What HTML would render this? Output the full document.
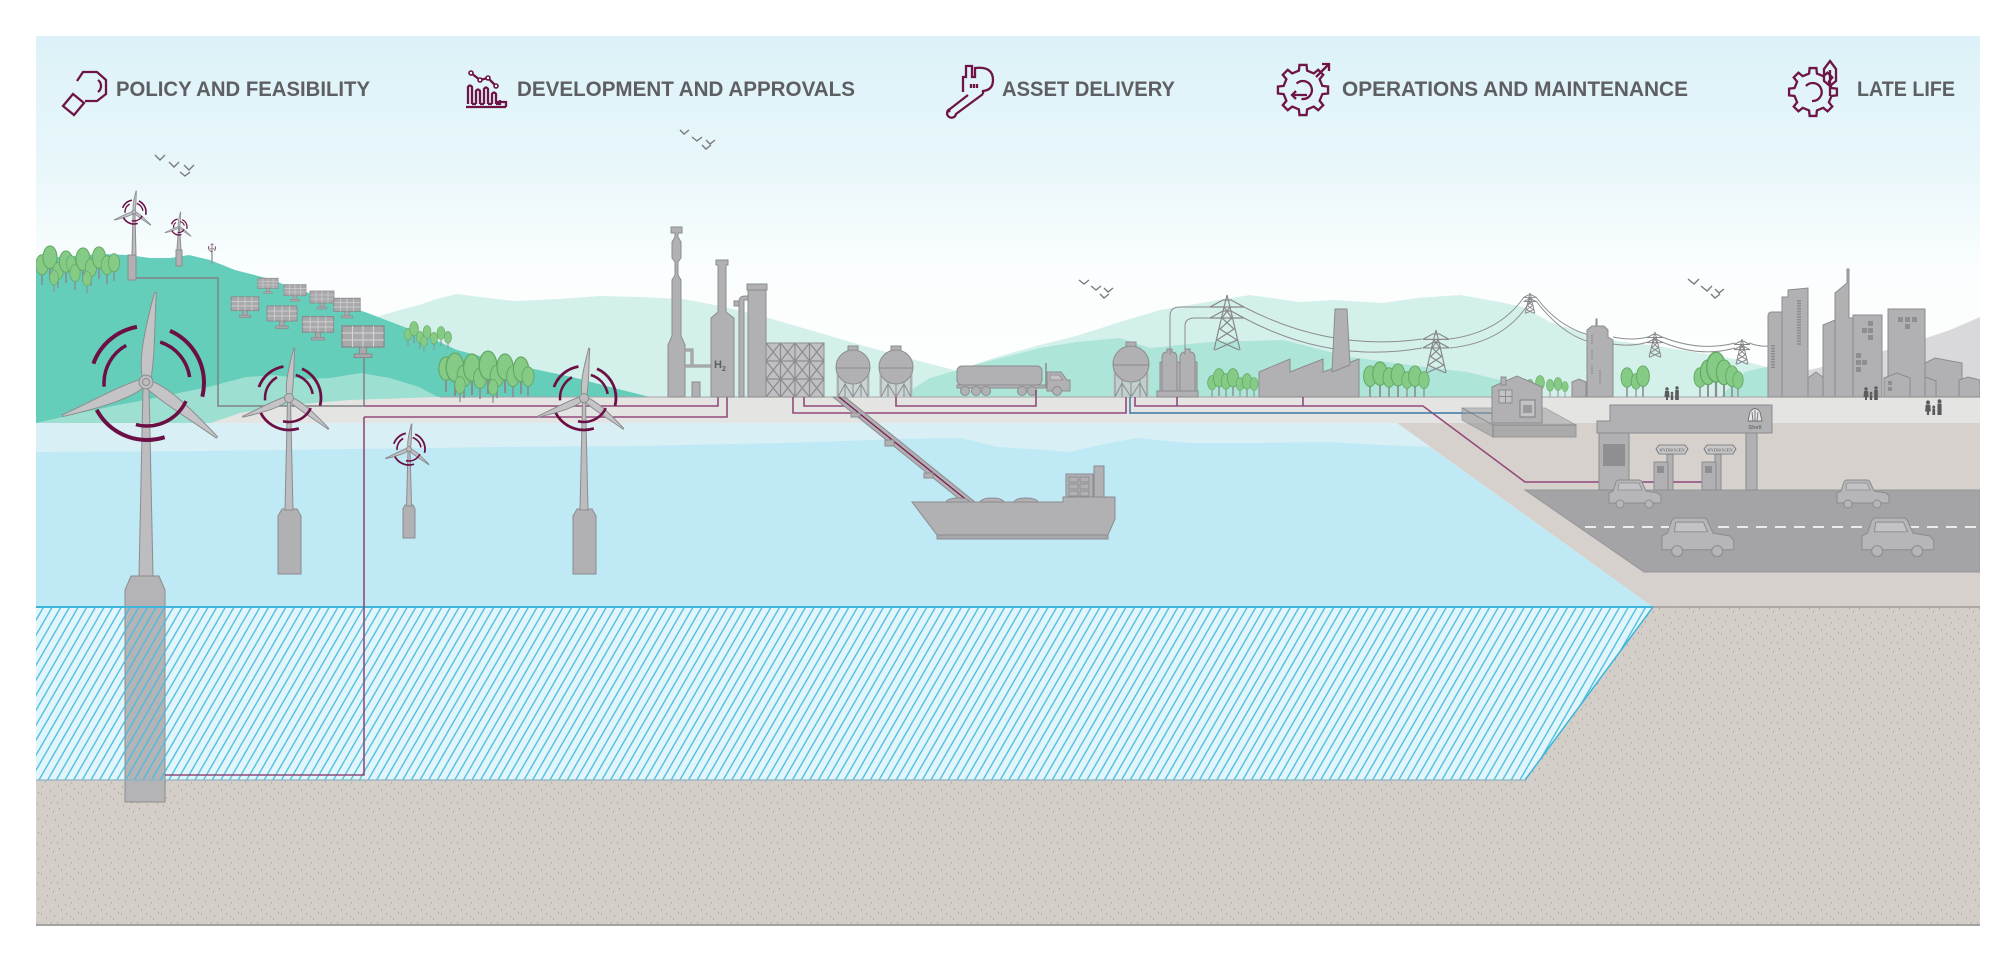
<!DOCTYPE html>
<html><head><meta charset="utf-8"><style>
html,body{margin:0;padding:0;background:#fff;}
svg{display:block;}
.g{fill:#b1b1b4;stroke:#8c8c8f;stroke-width:1;}
.gl{fill:#bdbdc0;stroke:#8c8c8f;stroke-width:1;}
.pp{fill:none;stroke:#93497a;stroke-width:1.6;}
.ic{fill:none;stroke:#6e1446;stroke-width:2.3;stroke-linejoin:miter;}
.tt{font-family:"Liberation Sans",sans-serif;font-weight:bold;font-size:21px;fill:#5e5f63;}
.bird{fill:none;stroke:#7a7a7d;stroke-width:1.4;}
</style></head><body>
<svg width="2016" height="960" viewBox="0 0 2016 960" xmlns="http://www.w3.org/2000/svg">
<defs>
  <linearGradient id="sky" gradientUnits="userSpaceOnUse" x1="0" y1="36" x2="0" y2="420">
    <stop offset="0" stop-color="#dcf2f8"/>
    <stop offset="0.35" stop-color="#e9f7fa"/>
    <stop offset="0.62" stop-color="#fbfefe"/>
    <stop offset="1" stop-color="#ffffff"/>
  </linearGradient>
  <pattern id="hatch" width="7.5" height="10" patternUnits="userSpaceOnUse" patternTransform="rotate(30)">
    <line x1="3.75" y1="-1" x2="3.75" y2="11" stroke="#43bce0" stroke-width="1.3"/>
  </pattern>
  <pattern id="speck" width="40" height="40" patternUnits="userSpaceOnUse">
    <rect width="40" height="40" fill="#d4cec9"/>
    <g fill="#aaa39d">
      <rect x="3" y="5" width="1" height="1.5"/><rect x="11" y="2" width="1" height="1.5"/><rect x="19" y="8" width="1" height="1.5"/><rect x="27" y="4" width="1" height="1.5"/><rect x="35" y="11" width="1" height="1.5"/><rect x="7" y="15" width="1" height="1.5"/><rect x="15" y="19" width="1" height="1.5"/><rect x="23" y="14" width="1" height="1.5"/><rect x="31" y="22" width="1" height="1.5"/><rect x="38" y="18" width="1" height="1.5"/><rect x="2" y="26" width="1" height="1.5"/><rect x="10" y="30" width="1" height="1.5"/><rect x="18" y="25" width="1" height="1.5"/><rect x="26" y="33" width="1" height="1.5"/><rect x="34" y="28" width="1" height="1.5"/><rect x="6" y="37" width="1" height="1.5"/><rect x="14" y="35" width="1" height="1.5"/><rect x="22" y="38" width="1" height="1.5"/><rect x="30" y="36" width="1" height="1.5"/><rect x="38" y="32" width="1" height="1.5"/><rect x="5" y="21" width="1" height="1.5"/><rect x="13" y="11" width="1" height="1.5"/><rect x="21" y="29" width="1" height="1.5"/><rect x="29" y="17" width="1" height="1.5"/><rect x="37" y="3" width="1" height="1.5"/><rect x="9" y="8" width="1" height="1.5"/><rect x="25" y="24" width="1" height="1.5"/><rect x="33" y="38" width="1" height="1.5"/><rect x="17" y="2" width="1" height="1.5"/><rect x="1" y="33" width="1" height="1.5"/>
    </g>
    <g fill="#e4e0dc">
      <rect x="8" y="3" width="1" height="1"/><rect x="16" y="12" width="1" height="1"/><rect x="24" y="6" width="1" height="1"/><rect x="32" y="16" width="1" height="1"/><rect x="4" y="28" width="1" height="1"/><rect x="12" y="24" width="1" height="1"/><rect x="20" y="34" width="1" height="1"/><rect x="28" y="29" width="1" height="1"/><rect x="36" y="24" width="1" height="1"/><rect x="36" y="7" width="1" height="1"/>
    </g>
  </pattern>
  <path id="blade" d="M3,-4 C22,-11 55,-8 100,-1 L100,1 C60,3 30,7 3,5 Z" fill="#c4c4c7" stroke="#8c8c8f"/>
  <g id="tr"><line x1="0" y1="0" x2="0" y2="-9" stroke="#8c8c8f" stroke-width="1"/><ellipse cx="0" cy="-13" rx="4" ry="6.5" fill="#85cb85" stroke="#62a864" stroke-width="0.6"/></g>
  <g id="solar">
    <rect x="-2" y="4" width="4" height="4" fill="#a9a9ac" stroke="#8a8a8d" stroke-width="0.6"/>
    <rect x="-5" y="8" width="10" height="2" fill="#a9a9ac" stroke="#8a8a8d" stroke-width="0.6"/>
    <rect x="-12" y="-8" width="24" height="12" fill="#a9a9ac" stroke="#8a8a8d" stroke-width="0.8"/>
    <path d="M-12,-4H12M-12,0H12M-6,-8V4M0,-8V4M6,-8V4" stroke="#d5d5d7" stroke-width="0.6"/>
  </g>
  <g id="pylon" fill="none" stroke="#87878a">
    <polyline points="-13,55 -3,12 0,0 3,12 13,55"/>
    <polyline points="-17,12 -4,5 4,5 17,12 -17,12"/>
    <polyline points="-17,23 -4,16 4,16 17,23 -17,23"/>
    <polyline points="-3,12 5,23 -7,34 10,45 -12,55"/>
    <polyline points="3,12 -5,23 7,34 -10,45 12,55"/>
  </g>
  <g id="car">
    <path d="M0,23 V13 L4,11 L7,2 Q8,0 10,0 H30 Q32,0 33,2 L37,11 L49,13 L52,16 V23 Z" fill="#b6b6b9" stroke="#8c8c8f"/>
    <path d="M10,3 H30 L33,10 H9 Z" fill="#c3c3c6" stroke="#8c8c8f" stroke-width="0.7"/>
    <circle cx="11" cy="24" r="4" fill="#b6b6b9" stroke="#8c8c8f"/>
    <circle cx="40" cy="24" r="4" fill="#b6b6b9" stroke="#8c8c8f"/>
  </g>
  <g id="ppl" fill="#5b5b5e">
    <circle cx="0" cy="-11" r="1.7"/><path d="M-2,-9 H2 L2.5,-3 H1 V0 H-1 V-3 H-2.5 Z"/>
    <circle cx="5" cy="-7" r="1.3"/><rect x="3.8" y="-5.6" width="2.4" height="5.6"/>
    <circle cx="10" cy="-12" r="1.7"/><rect x="8.2" y="-10" width="3.6" height="10"/>
  </g>
  <path id="gear" d="M17.61,-3.74 L22.78,-3.2 L22.78,3.2 L17.61,3.74 L15.1,9.8 L18.37,13.84 L13.84,18.37 L9.8,15.1 L3.74,17.61 L3.2,22.78 L-3.2,22.78 L-3.74,17.61 L-9.8,15.1 L-13.84,18.37 L-18.37,13.84 L-15.1,9.8 L-17.61,3.74 L-22.78,3.2 L-22.78,-3.2 L-17.61,-3.74 L-15.1,-9.8 L-18.37,-13.84 L-13.84,-18.37 L-9.8,-15.1 L-3.74,-17.61 L-3.2,-22.78 L3.2,-22.78 L3.74,-17.61 L9.8,-15.1 L13.84,-18.37 L18.37,-13.84 L15.1,-9.8 Z"/>
  <clipPath id="panel"><rect x="36" y="36" width="1944" height="890"/></clipPath>
</defs>

<rect width="2016" height="960" fill="#fff"/>
<g clip-path="url(#panel)">
  <rect x="36" y="36" width="1944" height="400" fill="url(#sky)"/>

  <path d="M373,397 L373,318 L400,310 L419,305 L440,298 L457,294 L480,297 L514,301 L560,299 L600,296 L640,297 L683,299 L720,306 L765,317 L810,330 L854,343 L900,356 L954,370 L985,397 Z" fill="#d4f0ea"/>
  <path d="M940,397 L961,369 L1000,356 L1040,345 L1076,336 L1120,322 L1160,310 L1207,302 L1250,295 L1300,302 L1333,300 L1383,303 L1417,298 L1460,295 L1500,302 L1523,307 L1550,322 L1583,333 L1617,341 L1650,345 L1700,353 L1740,360 L1770,368 L1790,397 Z" fill="#d4f0ea"/>
  <path d="M1780,397 L1800,372 L1840,363 L1880,352 L1920,340 L1950,330 L1980,317 L1980,397 Z" fill="#d9d9db"/>
  <path d="M900,397 L930,378 L985,362 L1040,348 L1076,342 L1120,338 L1150,348 L1210,342 L1283,340 L1350,357 L1410,365 L1467,372 L1500,380 L1520,397 Z" fill="#ade5d8"/>
  <path d="M1720,397 L1745,372 L1770,366 L1790,372 L1790,397 Z" fill="#ade5d8"/>

  <path d="M36,262 L59,257 L100,254 L128,255 L150,258 L170,258 L189,255 L210,260 L235,270 L266,278 L300,290 L340,303 L373,315 L420,333 L457,350 L510,364 L572,377 L610,387 L650,397 L650,430 L36,430 Z" fill="#64ceba"/>
  <path d="M36,423 L80,413 L113,406 L160,397 L208,387 L246,377 L275,375 L304,379 L330,378 L361,373 L390,378 L419,387 L438,397 L470,397 L470,428 L36,428 Z" fill="#9ddfd1"/>

  <path d="M205,425 L240,413 L290,405 L350,400 L440,397 L1980,397 L1980,425 Z" fill="#e4e5e2"/>
  <line x1="440" y1="397" x2="1980" y2="397" stroke="#a3a3a6" stroke-width="1"/>

  <path d="M36,423 L1397,423 L1653,607 L36,607 Z" fill="#d8eff6"/>
  <path d="M36,452 L200,451 L350,449 L500,447 L640,446 L783,443 L900,439 L961,438 L997,447 L1047,450 L1069,452 L1100,445 L1137,438 L1188,443 L1260,443 L1329,442 L1380,445 L1430,447 L1653,607 L36,607 Z" fill="#bfe9f5"/>

  <path d="M1397,423 L1980,423 L1980,607 L1653,607 Z" fill="#d6d1cd"/>
  <rect x="36" y="607" width="1944" height="320" fill="url(#speck)"/>
  <line x1="1653" y1="607" x2="1980" y2="607" stroke="#9f9b97" stroke-width="1.5"/>
  <line x1="36" y1="925" x2="1980" y2="925" stroke="#a5a29f" stroke-width="2"/>

  <path d="M36,607 L1653,607 L1525,780 L36,780 Z" fill="#e2f5fa"/>
  <path d="M125,590 L131,576 L159,576 L165,590 L165,802 L125,802 Z" fill="#b4b4b7" stroke="#8c8c8f"/>
  <path d="M36,607 L1653,607 L1525,780 L36,780 Z" fill="url(#hatch)"/>
  <line x1="36" y1="607" x2="1653" y2="607" stroke="#3cb4db" stroke-width="2"/>
  <line x1="1653" y1="607" x2="1525" y2="780" stroke="#3cb4db" stroke-width="1.5"/>
  <line x1="36" y1="780" x2="1525" y2="780" stroke="#8fb3bf" stroke-width="1.2"/>

  <path d="M1525,490 L1980,490 L1980,572 L1644,572 Z" fill="#a4a4a7" stroke="#96969a"/>
  <line x1="1585" y1="527" x2="1980" y2="527" stroke="#ececec" stroke-width="2" stroke-dasharray="11 8"/>

  <path class="bird" d="M155,155 L160,160 L165,155 M169,162 L174,167 L179,162 M184,165 L189,170 L194,165 M180,172 L185,176 L190,172"/>
  <path class="bird" d="M680,130 L684,134 L689,130 M692,137 L697,141 L702,137 M706,140 L710,144 L715,140 M702,145 L706,149 L711,145"/>
  <path class="bird" d="M1079,280 L1084,284 L1089,280 M1091,286 L1096,290 L1101,286 M1104,288 L1108,292 L1113,288 M1100,294 L1104,298 L1109,294"/>
  <path class="bird" d="M1688,279 L1694,284 L1699,279 M1701,286 L1707,291 L1712,286 M1715,289 L1719,293 L1724,289 M1711,294 L1715,298 L1720,294"/>

  <path d="M136,278 H218 V406 H364 M364,347 V406" fill="none" stroke="#808083" stroke-width="1.5"/>
  <path class="pp" d="M364,406 H718 V397 M364,417 H727 V397 M364,417 V775 H165"/>

  <use href="#tr" transform="translate(42,285) scale(1.55)"/>
  <use href="#tr" transform="translate(50,280) scale(1.75)"/>
  <use href="#tr" transform="translate(58,288) scale(1.3)"/>
  <use href="#tr" transform="translate(66,283) scale(1.65)"/>
  <use href="#tr" transform="translate(71,279) scale(1.2)"/>
  <use href="#tr" transform="translate(75,290) scale(1.3)"/>
  <use href="#tr" transform="translate(83,282) scale(1.75)"/>
  <use href="#tr" transform="translate(91,286) scale(1.4)"/>
  <use href="#tr" transform="translate(99,279) scale(1.65)"/>
  <use href="#tr" transform="translate(107,284) scale(1.45)"/>
  <use href="#tr" transform="translate(114,281) scale(1.4)"/>
  <use href="#tr" transform="translate(54,292) scale(1.1)"/>
  <use href="#tr" transform="translate(87,293) scale(1.1)"/>

  <use href="#tr" transform="translate(408,346) scale(0.9)"/>
  <use href="#tr" transform="translate(414,343) scale(1.1)"/>
  <use href="#tr" transform="translate(420,349) scale(0.9)"/>
  <use href="#tr" transform="translate(427,345) scale(1.0)"/>
  <use href="#tr" transform="translate(434,350) scale(0.9)"/>
  <use href="#tr" transform="translate(441,346) scale(1.0)"/>
  <use href="#tr" transform="translate(448,349) scale(0.9)"/>
  <use href="#tr" transform="translate(424,352) scale(0.8)"/>

  <use href="#tr" transform="translate(446,392) scale(1.8)"/>
  <use href="#tr" transform="translate(455,396) scale(2.2)"/>
  <use href="#tr" transform="translate(464,398) scale(1.7)"/>
  <use href="#tr" transform="translate(472,395) scale(2.1)"/>
  <use href="#tr" transform="translate(480,399) scale(1.6)"/>
  <use href="#tr" transform="translate(488,394) scale(2.2)"/>
  <use href="#tr" transform="translate(497,398) scale(1.7)"/>
  <use href="#tr" transform="translate(505,393) scale(2.0)"/>
  <use href="#tr" transform="translate(513,397) scale(1.6)"/>
  <use href="#tr" transform="translate(521,394) scale(1.9)"/>
  <use href="#tr" transform="translate(528,396) scale(1.5)"/>
  <use href="#tr" transform="translate(460,402) scale(1.3)"/>
  <use href="#tr" transform="translate(493,403) scale(1.2)"/>

  <use href="#solar" transform="translate(268,285) scale(0.85)"/>
  <use href="#solar" transform="translate(295,292) scale(0.92)"/>
  <use href="#solar" transform="translate(322,299) scale(1.0)"/>
  <use href="#solar" transform="translate(347,307) scale(1.1)"/>
  <use href="#solar" transform="translate(245,306) scale(1.15)"/>
  <use href="#solar" transform="translate(282,316) scale(1.25)"/>
  <use href="#solar" transform="translate(318,327) scale(1.3)"/>
  <use href="#solar" transform="translate(363,340) scale(1.75)"/>

  <g>
    <polygon points="133,214 135,214 136,255 132,255" class="gl"/>
    <rect x="128" y="255" width="8" height="25" class="g"/>
    <use href="#blade" transform="translate(134,212) rotate(-84) scale(0.21)" stroke-width="4"/>
    <use href="#blade" transform="translate(134,212) rotate(38) scale(0.21)" stroke-width="4"/>
    <use href="#blade" transform="translate(134,212) rotate(158) scale(0.21)" stroke-width="4"/>
    <circle cx="134" cy="212" r="2" class="gl"/>
    <circle cx="134" cy="212" r="12" fill="none" stroke="#6b0f45" stroke-width="1.6" pathLength="360" stroke-dasharray="80 48 60 34 80 58" stroke-dashoffset="288"/>
    <circle cx="134" cy="212" r="9" fill="none" stroke="#6b0f45" stroke-width="1.4" pathLength="360" stroke-dasharray="80 70 66 47 64 33" stroke-dashoffset="335"/>
  </g>
  <g>
    <polygon points="178.5,228 179.5,228 181,250 177,250" class="gl"/>
    <rect x="176" y="250" width="6" height="16" class="g"/>
    <use href="#blade" transform="translate(179,227) rotate(-84) scale(0.15)" stroke-width="5"/>
    <use href="#blade" transform="translate(179,227) rotate(38) scale(0.15)" stroke-width="5"/>
    <use href="#blade" transform="translate(179,227) rotate(158) scale(0.15)" stroke-width="5"/>
    <circle cx="179" cy="227" r="8" fill="none" stroke="#6b0f45" stroke-width="1.3" pathLength="360" stroke-dasharray="80 48 60 34 80 58" stroke-dashoffset="288"/>
    <circle cx="179" cy="227" r="5.5" fill="none" stroke="#6b0f45" stroke-width="1.1" pathLength="360" stroke-dasharray="80 70 66 47 64 33" stroke-dashoffset="335"/>
  </g>
  <g>
    <line x1="212" y1="248" x2="212" y2="264" stroke="#9a9a9d" stroke-width="1.5"/>
    <circle cx="212" cy="248" r="3.5" fill="none" stroke="#8e3a6b" stroke-width="0.9" stroke-dasharray="3 2"/>
    <path d="M212,248 L212,243 M212,248 L216,250 M212,248 L208,250" stroke="#9a9a9d" stroke-width="1"/>
  </g>

  <path class="g" d="M668,397 V345 L672,336 V280 L675,275 V262 L672,258 V242 L675,237 V233 L671,233 V227 H682 V233 L678,233 V237 L681,242 V258 L678,262 V275 L681,280 V336 L685,345 V397 Z"/>
  <path d="M685,350 H692 V366 M685,366 H711" fill="none" stroke="#8c8c8f" stroke-width="3"/>
  <path d="M685,350 H692 V366 M685,366 H711" fill="none" stroke="#b1b1b4" stroke-width="1.5"/>
  <rect class="g" x="692" y="382" width="8" height="15"/>
  <path class="g" d="M711,397 V318 L718,312 V265 H716 V260 H728 V265 H726 V312 L734,318 V397 Z"/>
  <rect class="g" x="734" y="301" width="6" height="5"/>
  <text x="714" y="368" font-family="Liberation Sans, sans-serif" font-weight="bold" font-size="11" fill="#5e5f63">H<tspan font-size="7" dy="3">2</tspan></text>
  <path class="g" d="M739,397 V302 Q739,296 745,296 H748 V300 H744 V397 Z"/>
  <rect class="g" x="748" y="289" width="18" height="108"/>
  <rect class="g" x="747" y="284" width="20" height="6"/>
  <rect x="766" y="343" width="58" height="54" fill="#c0c0c3" stroke="#8c8c8f"/>
  <path d="M780.5,343V397 M795,343V397 M809.5,343V397 M766,361H824 M766,379H824" stroke="#8c8c8f" stroke-width="1.2" fill="none"/>
  <path d="M766,361L780.5,343 M766,343L780.5,361 M780.5,361L795,343 M780.5,343L795,361 M795,361L809.5,343 M795,343L809.5,361 M809.5,361L824,343 M809.5,343L824,361 M766,379L780.5,361 M766,361L780.5,379 M780.5,379L795,361 M780.5,361L795,379 M795,379L809.5,361 M795,361L809.5,379 M809.5,379L824,361 M809.5,361L824,379 M766,397L780.5,379 M766,379L780.5,397 M780.5,397L795,379 M780.5,379L795,397 M795,397L809.5,379 M795,379L809.5,397 M809.5,397L824,379 M809.5,379L824,397" stroke="#8c8c8f" stroke-width="1.3" fill="none"/>
  <g>
    <rect x="836" y="368" width="34" height="29" fill="#c6c6c9" opacity="0.7"/>
    <path d="M838,372V397 M845,380V397 M853,383V397 M861,380V397 M868,372V397 M838,397 L845,384 L853,397 L861,384 L868,397" stroke="#8c8c8f" fill="none"/>
    <rect class="g" x="848" y="346" width="10" height="5"/>
    <circle class="g" cx="853" cy="367" r="17"/>
    <path d="M836,368 H870" stroke="#8c8c8f"/>
  </g>
  <g>
    <rect x="879" y="368" width="34" height="29" fill="#c6c6c9" opacity="0.7"/>
    <path d="M881,372V397 M888,380V397 M896,383V397 M904,380V397 M911,372V397 M881,397 L888,384 L896,397 L904,384 L911,397" stroke="#8c8c8f" fill="none"/>
    <rect class="g" x="891" y="346" width="10" height="5"/>
    <circle class="g" cx="896" cy="367" r="17"/>
    <path d="M879,368 H913" stroke="#8c8c8f"/>
  </g>
  <g>
    <rect x="1113" y="365" width="36" height="32" fill="#c6c6c9" opacity="0.7"/>
    <path d="M1115,370V397 M1122,378V397 M1131,381V397 M1140,378V397 M1147,370V397 M1115,397 L1122,383 L1131,397 L1140,383 L1147,397" stroke="#8c8c8f" fill="none"/>
    <rect class="g" x="1126" y="342" width="10" height="5"/>
    <circle class="g" cx="1131" cy="364" r="18"/>
    <path d="M1113,365 H1149" stroke="#8c8c8f"/>
  </g>
  <g>
    <rect class="g" x="957" y="366" width="85" height="19" rx="5"/>
    <rect class="g" x="957" y="385" width="100" height="3"/>
    <path class="g" d="M1047,391 V372 H1061 L1067,380 H1070 V391 Z"/>
    <path d="M1050,375 H1059 L1063,380 H1050 Z" fill="#c3c3c6" stroke="#8c8c8f" stroke-width="0.8"/>
    <line x1="1046" y1="363" x2="1046" y2="388" stroke="#8c8c8f" stroke-width="1.5"/>
    <circle class="g" cx="965" cy="391" r="4.5"/><circle class="g" cx="976" cy="391" r="4.5"/><circle class="g" cx="986" cy="391" r="4.5"/>
    <circle class="g" cx="1022" cy="391" r="4.5"/><circle class="g" cx="1032" cy="391" r="4.5"/><circle class="g" cx="1057" cy="391" r="4.5"/>
  </g>
  <g>
    <rect class="g" x="1160" y="362" width="37" height="30"/>
    <path class="g" d="M1162,392 V358 Q1162,352 1167,352 V349 H1172 V352 Q1177,352 1177,358 V392 Z"/>
    <path class="g" d="M1180,392 V358 Q1180,352 1185,352 V349 H1190 V352 Q1195,352 1195,358 V392 Z"/>
    <rect class="g" x="1157" y="391" width="41" height="6"/>
  </g>
  <g fill="none" stroke="#8d8d90" stroke-width="1">
    <path d="M1170,355 V316 Q1170,307 1180,307 H1211"/>
    <path d="M1185,355 V326 Q1185,318 1195,318 H1211"/>
    <path d="M1244,307 Q1330,352 1422,339"/>
    <path d="M1244,318 Q1330,364 1422,348"/>
    <path d="M1450,339 Q1500,332 1524,297"/>
    <path d="M1450,348 Q1506,342 1530,301"/>
    <path d="M1536,297 Q1562,332 1600,337"/>
    <path d="M1536,301 Q1566,340 1600,344"/>
    <path d="M1613,337 Q1632,341 1648,337"/>
    <path d="M1613,344 Q1632,347 1648,342"/>
    <path d="M1662,337 Q1700,352 1735,343"/>
    <path d="M1662,342 Q1700,358 1735,348"/>
    <path d="M1749,343 Q1760,347 1768,346"/>
  </g>
  <use href="#pylon" transform="translate(1227,295)" stroke-width="1.2"/>
  <use href="#pylon" transform="translate(1436,330) scale(0.78)" stroke-width="1.5"/>
  <use href="#pylon" transform="translate(1530,293) scale(0.37)" stroke-width="2.5"/>
  <use href="#pylon" transform="translate(1655,332) scale(0.46)" stroke-width="2.2"/>
  <use href="#pylon" transform="translate(1742,339) scale(0.46)" stroke-width="2.2"/>
  <path class="g" d="M1259,397 V372 L1290,359 V372 L1323,359 V372 L1359,359 V397 Z"/>
  <path class="g" d="M1332,372 L1335,309 H1347 L1350,365 Z"/>
  <use href="#tr" transform="translate(1212,397) scale(1.1)"/>
  <use href="#tr" transform="translate(1219,396) scale(1.4)"/>
  <use href="#tr" transform="translate(1226,397) scale(1.2)"/>
  <use href="#tr" transform="translate(1233,396) scale(1.4)"/>
  <use href="#tr" transform="translate(1240,397) scale(1.0)"/>
  <use href="#tr" transform="translate(1247,397) scale(1.2)"/>
  <use href="#tr" transform="translate(1254,397) scale(1.0)"/>
  <use href="#tr" transform="translate(1370,397) scale(1.6)"/>
  <use href="#tr" transform="translate(1380,397) scale(1.8)"/>
  <use href="#tr" transform="translate(1389,397) scale(1.5)"/>
  <use href="#tr" transform="translate(1398,397) scale(1.7)"/>
  <use href="#tr" transform="translate(1407,397) scale(1.3)"/>
  <use href="#tr" transform="translate(1415,397) scale(1.6)"/>
  <use href="#tr" transform="translate(1424,397) scale(1.3)"/>
  <use href="#tr" transform="translate(1530,397) scale(0.9)"/>
  <use href="#tr" transform="translate(1540,397) scale(1.1)"/>
  <use href="#tr" transform="translate(1550,397) scale(0.9)"/>
  <use href="#tr" transform="translate(1558,397) scale(1.0)"/>
  <use href="#tr" transform="translate(1565,397) scale(0.8)"/>
  <use href="#tr" transform="translate(1627,397) scale(1.5)"/>
  <use href="#tr" transform="translate(1636,397) scale(1.2)"/>
  <use href="#tr" transform="translate(1643,397) scale(1.6)"/>
  <use href="#tr" transform="translate(1700,397) scale(1.5)"/>
  <use href="#tr" transform="translate(1708,397) scale(1.9)"/>
  <use href="#tr" transform="translate(1716,397) scale(2.3)"/>
  <use href="#tr" transform="translate(1724,397) scale(1.9)"/>
  <use href="#tr" transform="translate(1732,397) scale(1.6)"/>
  <use href="#tr" transform="translate(1738,397) scale(1.3)"/>

  <path class="g" d="M1572,397 V382 L1579,379 L1586,382 V397 Z"/>
  <path class="g" d="M1587,397 V330 L1592,326 H1596 V319 H1597 V326 H1604 L1608,330 V337 L1613,340 V397 Z"/>
  <path d="M1592,335 V345 M1592,350 V360 M1592,365 V375 M1600,370 V385" stroke="#8c8c8f" stroke-width="1.4" stroke-dasharray="1.5 1"/>
  <path class="g" d="M1808,397 V378 L1816,372 L1824,378 L1832,372 L1840,377 L1848,375 V397 Z"/>
  <path class="g" d="M1768,397 V316 Q1768,312 1772,312 H1785 V397 Z"/>
  <path class="g" d="M1782,397 V297 H1788 V290 L1808,288 V397 Z"/>
  <path d="M1799,300 V345" stroke="#8c8c8f" stroke-width="4" stroke-dasharray="1.5 1.2"/>
  <path d="M1773,345 V368" stroke="#8c8c8f" stroke-width="4" stroke-dasharray="1.5 1.2"/>
  <path class="g" d="M1823,397 V325 L1840,318 V397 Z"/>
  <path class="g" d="M1835,397 V293 L1847,283 V269 H1849 V318 H1862 V397 Z"/>
  <path class="g" d="M1853,397 V315 H1882 V397 Z"/>
  <g fill="#8e8e91"><rect x="1868" y="321" width="5" height="5"/><rect x="1862" y="328" width="5" height="5"/><rect x="1868" y="328" width="5" height="5"/><rect x="1868" y="335" width="5" height="5"/><rect x="1856" y="353" width="5" height="5"/><rect x="1862" y="360" width="5" height="5"/><rect x="1856" y="360" width="5" height="5"/><rect x="1856" y="367" width="5" height="5"/></g>
  <path class="g" d="M1888,397 V309 H1925 V397 Z"/>
  <g fill="#8e8e91"><rect x="1898" y="317" width="5" height="5"/><rect x="1905" y="317" width="5" height="5"/><rect x="1912" y="317" width="5" height="5"/><rect x="1905" y="324" width="5" height="5"/></g>
  <path class="g" d="M1884,397 V378 L1897,373 L1910,378 V397 Z"/>
  <g fill="#8e8e91"><rect x="1888" y="381" width="4" height="4"/><rect x="1888" y="387" width="4" height="4"/></g>
  <path class="g" d="M1925,397 V363 L1935,358 L1962,363 V397 Z"/>
  <path class="g" d="M1925,397 V377 L1936,381 V397 Z"/>
  <path class="g" d="M1959,397 V380 L1968,377 L1980,380 V397 Z"/>
  <use href="#ppl" transform="translate(1667,400)"/>
  <use href="#ppl" transform="translate(1866,400)"/>
  <use href="#ppl" transform="translate(1928,415) scale(1.15)"/>

  <path class="pp" d="M793,397 V413 H1126 V397 M804,397 V406 H850 M896,397 V406 H1036 V390 M1135,397 V406 H1423 L1525,482 H1705 M1177,397 V406 M1303,397 V406"/>
  <path d="M1130,397 V413 H1519" fill="none" stroke="#3d76a5" stroke-width="1.5"/>

  <path d="M833,397 L845,397 L975,502 L963,502 Z" class="g"/>
  <line x1="839" y1="397" x2="969" y2="502" stroke="#7d1d55" stroke-width="1.3"/>
  <rect class="g" x="851" y="413" width="9" height="4"/>
  <rect class="g" x="885" y="440" width="9" height="6"/>
  <rect class="g" x="924" y="473" width="9" height="5"/>

  <g>
    <rect class="g" x="1066" y="474" width="27" height="24"/>
    <g fill="none" stroke="#8c8c8f" stroke-width="0.9"><rect x="1069" y="477" width="9" height="5"/><rect x="1080" y="477" width="9" height="5"/><rect x="1069" y="484" width="9" height="5"/><rect x="1080" y="484" width="9" height="5"/><rect x="1069" y="491" width="9" height="5"/><rect x="1080" y="491" width="9" height="5"/></g>
    <rect class="g" x="1094" y="466" width="10" height="32"/>
    <path class="g" d="M946,502 Q948,498 958,498 Q968,498 970,502 M980,502 Q982,498 992,498 Q1002,498 1004,502 M1014,502 Q1016,498 1026,498 Q1036,498 1038,502"/>
    <path class="g" d="M912,502 H1063 V497 H1115 V519 L1108,535 H937 Z"/>
    <rect x="937" y="535" width="171" height="4" fill="#a8a8ab" stroke="#8c8c8f"/>
  </g>

  <g>
    <path d="M1462,408 L1545,408 L1576,425 L1493,425 Z" fill="#a0a0a3" opacity="0.55" stroke="#7d7d80"/>
    <path class="g" d="M1492,423 V387 L1517,376 L1542,387 V423 Z"/>
    <rect class="g" x="1501" y="377" width="5" height="8"/>
    <path d="M1499,390 H1512 V403 H1499 Z M1505.5,390 V403 M1499,396.5 H1512" fill="#c3c3c6" stroke="#8c8c8f"/>
    <rect x="1520" y="400" width="15" height="17" fill="#c3c3c6" stroke="#7d7d80"/>
    <rect x="1523" y="405" width="9" height="8" fill="#9a9a9d"/>
    <path d="M1462,408 L1493,425 L1493,437 L1462,420 Z" fill="#9a9a9d" opacity="0.6" stroke="#7d7d80"/>
    <path d="M1493,425 L1576,425 L1576,437 L1493,437 Z" fill="#9a9a9d" opacity="0.7" stroke="#7d7d80"/>
  </g>

  <g>
    <rect class="g" x="1599" y="433" width="30" height="57"/>
    <rect x="1603" y="444" width="22" height="22" fill="#8f8f92"/>
    <rect class="g" x="1746" y="433" width="11" height="57"/>
    <path class="g" d="M1597,433 V421 H1610 V405 H1772 V433 Z"/>
    <path d="M1748,421 L1750,412 Q1755,405 1760,412 L1762,421 Z M1755,410 V421 M1752,412 L1753,421 M1758,412 L1757,421" fill="#e6e6e8" stroke="#6f6f72" stroke-width="0.9"/>
    <text x="1755" y="429" font-family="Liberation Sans, sans-serif" font-weight="bold" font-size="5.5" fill="#6f6f72" text-anchor="middle">Shell</text>
    <rect class="g" x="1667" y="454" width="6" height="36"/>
    <rect class="g" x="1654" y="462" width="14" height="28"/>
    <rect x="1657" y="466" width="7" height="7" fill="#8f8f92"/>
    <path d="M1656,449 L1659,445 H1685 L1688,449 L1685,454 H1659 Z" fill="#c8c8cb" stroke="#6f6f72" stroke-width="0.8"/>
    <text x="1672" y="451.5" font-family="Liberation Serif, serif" font-size="4.5" fill="#5b5b5e" text-anchor="middle">HYDROGEN</text>
    <rect class="g" x="1715" y="454" width="6" height="36"/>
    <rect class="g" x="1702" y="462" width="14" height="28"/>
    <rect x="1705" y="466" width="7" height="7" fill="#8f8f92"/>
    <path d="M1704,449 L1707,445 H1733 L1736,449 L1733,454 H1707 Z" fill="#c8c8cb" stroke="#6f6f72" stroke-width="0.8"/>
    <text x="1720" y="451.5" font-family="Liberation Serif, serif" font-size="4.5" fill="#5b5b5e" text-anchor="middle">HYDROGEN</text>
  </g>
  <use href="#car" transform="translate(1609,480)"/>
  <use href="#car" transform="translate(1837,480)"/>
  <use href="#car" transform="translate(1662,518) scale(1.38)" stroke-width="0.75"/>
  <use href="#car" transform="translate(1862,518) scale(1.38)" stroke-width="0.75"/>

  <!-- T1 -->
  <g>
    <polygon class="gl" points="143,386 149,386 153,576 139,576"/>
    <use href="#blade" transform="translate(146,382) rotate(-84) scale(0.9)" stroke-width="1.1"/>
    <use href="#blade" transform="translate(146,382) rotate(38) scale(0.9)" stroke-width="1.1"/>
    <use href="#blade" transform="translate(146,382) rotate(158) scale(0.9)" stroke-width="1.1"/>
    <circle cx="146" cy="382" r="7" class="gl"/><circle cx="146" cy="382" r="3.5" fill="none" stroke="#8c8c8f"/>
    <circle cx="147" cy="383" r="57" fill="none" stroke="#6b0f45" stroke-width="4" pathLength="360" stroke-dasharray="80 48 60 34 80 58" stroke-dashoffset="288"/>
    <circle cx="147" cy="383" r="43" fill="none" stroke="#6b0f45" stroke-width="3.5" pathLength="360" stroke-dasharray="80 70 66 47 64 33" stroke-dashoffset="335"/>
  </g>
  <!-- T2 -->
  <g>
    <path class="g" d="M278,516 L282,509 H297 L301,516 V574 H278 Z"/>
    <polygon class="gl" points="287.5,400 290.5,400 293,510 285,510"/>
    <use href="#blade" transform="translate(289,398) rotate(-84) scale(0.5)" stroke-width="2"/>
    <use href="#blade" transform="translate(289,398) rotate(38) scale(0.5)" stroke-width="2"/>
    <use href="#blade" transform="translate(289,398) rotate(158) scale(0.5)" stroke-width="2"/>
    <circle cx="289" cy="398" r="4.5" class="gl"/>
    <circle cx="289" cy="398" r="32" fill="none" stroke="#6b0f45" stroke-width="2.8" pathLength="360" stroke-dasharray="80 48 60 34 80 58" stroke-dashoffset="288"/>
    <circle cx="289" cy="398" r="24" fill="none" stroke="#6b0f45" stroke-width="2.5" pathLength="360" stroke-dasharray="80 70 66 47 64 33" stroke-dashoffset="335"/>
  </g>
  <!-- T3 -->
  <g>
    <path class="g" d="M403,509 L405,505 H413 L415,509 V538 H403 Z"/>
    <polygon class="gl" points="408,450 410,450 411.5,506 406.5,506"/>
    <use href="#blade" transform="translate(409,449) rotate(-84) scale(0.25)" stroke-width="4"/>
    <use href="#blade" transform="translate(409,449) rotate(38) scale(0.25)" stroke-width="4"/>
    <use href="#blade" transform="translate(409,449) rotate(158) scale(0.25)" stroke-width="4"/>
    <circle cx="409" cy="449" r="2.5" class="gl"/>
    <circle cx="409" cy="449" r="16" fill="none" stroke="#6b0f45" stroke-width="1.8" pathLength="360" stroke-dasharray="80 48 60 34 80 58" stroke-dashoffset="288"/>
    <circle cx="409" cy="449" r="12" fill="none" stroke="#6b0f45" stroke-width="1.6" pathLength="360" stroke-dasharray="80 70 66 47 64 33" stroke-dashoffset="335"/>
  </g>
  <!-- T4 -->
  <g>
    <path class="g" d="M573,516 L577,509 H592 L596,516 V574 H573 Z"/>
    <polygon class="gl" points="582.5,400 585.5,400 588,510 580,510"/>
    <use href="#blade" transform="translate(584,398) rotate(-84) scale(0.5)" stroke-width="2"/>
    <use href="#blade" transform="translate(584,398) rotate(38) scale(0.5)" stroke-width="2"/>
    <use href="#blade" transform="translate(584,398) rotate(158) scale(0.5)" stroke-width="2"/>
    <circle cx="584" cy="398" r="4.5" class="gl"/>
    <circle cx="584" cy="398" r="32" fill="none" stroke="#6b0f45" stroke-width="2.8" pathLength="360" stroke-dasharray="80 48 60 34 80 58" stroke-dashoffset="288"/>
    <circle cx="584" cy="398" r="24" fill="none" stroke="#6b0f45" stroke-width="2.5" pathLength="360" stroke-dasharray="80 70 66 47 64 33" stroke-dashoffset="335"/>
  </g>

  <!-- title row -->
  <path class="ic" d="M77,81 L83,72 H97 L106,80 V94 L97,101 H85"/>
  <path class="ic" d="M98,80 C102,83 102,89 98,92"/>
  <path class="ic" d="M84,103 L73,94 L63,106 L74,115 Z"/>
  <text class="tt" x="116" y="96" textLength="254" lengthAdjust="spacingAndGlyphs">POLICY AND FEASIBILITY</text>

  <path class="ic" stroke-width="2" d="M466,107 H506 M495,102 H506 V107 M468,104 V87 Q470,84 472,87 V104 M476,104 V91 Q478,88 480,91 V104 M484,104 V89 Q486,86 488,89 V104 M492,104 V94 Q494,91 496,94 V104 M472,104 H476 M480,104 H484 M488,104 H492 M496,104 H500 V100"/>
  <path class="ic" stroke-width="1.8" d="M471,73 L480,80 L488,78 L496,86"/>
  <g fill="#fff" stroke="#6e1446" stroke-width="1.6"><circle cx="471" cy="73" r="2"/><circle cx="480" cy="80" r="2"/><circle cx="488" cy="78" r="2"/><circle cx="496" cy="86" r="2"/></g>
  <text class="tt" x="517" y="96" textLength="338" lengthAdjust="spacingAndGlyphs">DEVELOPMENT AND APPROVALS</text>

  <path class="ic" d="M963,92 V77 H966 V66 H972 V77 H975 V68 Q993,66 993,80 Q993,90 983,91 V94"/>
  <path class="ic" d="M968,95 L950,109 A4.5,4.5 0 1 0 956,114 L983,94"/>
  <path class="ic" stroke-width="1.6" d="M971,84 V88 M974,84 V88 M977,84 V88"/>
  <circle cx="949" cy="111" r="1.5" fill="#6e1446"/>
  <text class="tt" x="1002" y="96" textLength="173" lengthAdjust="spacingAndGlyphs">ASSET DELIVERY</text>

  <use href="#gear" transform="translate(1303,90) scale(1.1)" fill="none" stroke="#6e1446" stroke-width="2.1"/>
  <path class="ic" d="M1296.6,83.6 A9,9 0 1 1 1301.4,98.9"/>
  <path class="ic" d="M1307,95 H1292 M1296,91 L1292,95 L1296,99"/>
  <path class="ic" d="M1316,77 L1329,64 M1322,64 H1329 V71"/>
  <text class="tt" x="1342" y="96" textLength="346" lengthAdjust="spacingAndGlyphs">OPERATIONS AND MAINTENANCE</text>

  <use href="#gear" transform="translate(1813,92) scale(1.05)" fill="none" stroke="#6e1446" stroke-width="2.2"/>
  <path class="ic" d="M1830,61 L1836,69 V81 L1830,86 L1824,81 V69 Z M1830,70 V96"/>
  <path class="ic" d="M1806,86 A9,9 0 1 1 1812,101"/>
  <text class="tt" x="1857" y="96" textLength="98" lengthAdjust="spacingAndGlyphs">LATE LIFE</text>
</g>
</svg>
</body></html>
